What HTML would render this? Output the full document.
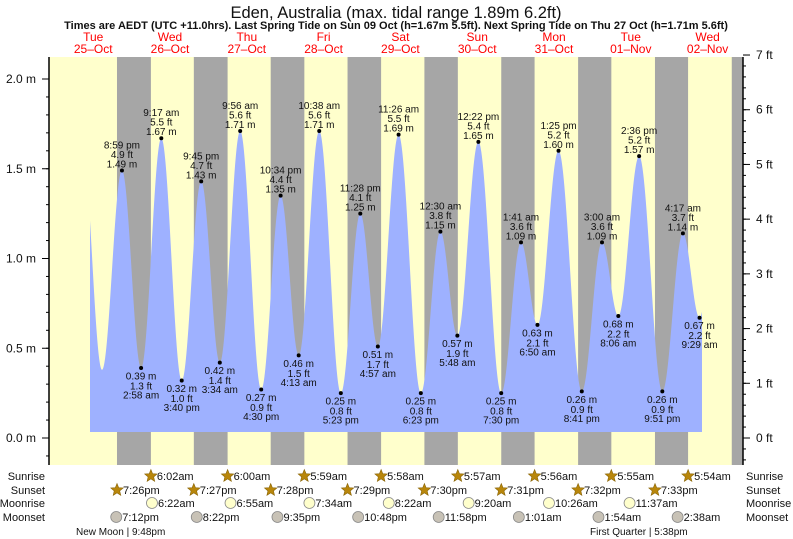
<!DOCTYPE html>
<html><head><meta charset="utf-8"><style>
html,body{margin:0;padding:0;background:#fff;}
svg{display:block;font-family:"Liberation Sans",sans-serif;}
</style></head><body>
<svg id="chart" width="793" height="539" viewBox="0 0 793 539" xmlns="http://www.w3.org/2000/svg">
<text x="396" y="18" font-size="16.5" text-anchor="middle" fill="#111">Eden, Australia (max. tidal range 1.89m 6.2ft)</text>
<text x="396" y="29" font-size="11" font-weight="bold" text-anchor="middle" fill="#111">Times are AEDT (UTC +11.0hrs). Last Spring Tide on Sun 09 Oct (h=1.67m 5.5ft). Next Spring Tide on Thu 27 Oct (h=1.71m 5.6ft)</text>
<g id="days"></g>
<g id="plot"></g>
<g id="labels"></g>
<g id="axes"></g>
<g id="astro"></g>
</svg>
<script>
// ---- data ----
const dayNames = ["Tue","Wed","Thu","Fri","Sat","Sun","Mon","Tue","Wed"];
const dayDates = ["25-Oct","26-Oct","27-Oct","28-Oct","29-Oct","30-Oct","31-Oct","01-Nov","02-Nov"];
const tideDay = [0,1,1,1,1,2,2,2,2,3,3,3,3,4,4,4,5,5,5,5,6,6,6,6,7,7,7,7,8,8];
const tideTime = ["8:59 pm","2:58 am","9:17 am","3:40 pm","9:45 pm","3:34 am","9:56 am","4:30 pm","10:34 pm","4:13 am","10:38 am","5:23 pm","11:28 pm","4:57 am","11:26 am","6:23 pm","12:30 am","5:48 am","12:22 pm","7:30 pm","1:41 am","6:50 am","1:25 pm","8:41 pm","3:00 am","8:06 am","2:36 pm","9:51 pm","4:17 am","9:29 am"];
const tideHeight = [1.49,0.39,1.67,0.32,1.43,0.42,1.71,0.27,1.35,0.46,1.71,0.25,1.25,0.51,1.69,0.25,1.15,0.57,1.65,0.25,1.09,0.63,1.60,0.26,1.09,0.68,1.57,0.26,1.14,0.67];
const edgeDay = [0,0,8];
const edgeTime = ["8:30 am","2:45 pm","3:40 pm"];
const edgeHeight = [1.65,0.38,1.55];
const sunriseDay = [1,2,3,4,5,6,7,8];
const sunriseTime = ["6:02am","6:00am","5:59am","5:58am","5:57am","5:56am","5:55am","5:54am"];
const sunsetDay = [0,1,2,3,4,5,6,7,8];
const sunsetTime = ["7:26pm","7:27pm","7:28pm","7:29pm","7:30pm","7:31pm","7:32pm","7:33pm","7:33pm"];
const moonriseDay = [1,2,3,4,5,6,7];
const moonriseTime = ["6:22am","6:55am","7:34am","8:22am","9:20am","10:26am","11:37am"];
const moonsetDay = [0,1,2,3,4,6,7,8];
const moonsetTime = ["7:12pm","8:22pm","9:35pm","10:48pm","11:58pm","1:01am","1:54am","2:38am"];
const mTicks = ["0.0 m","0.5 m","1.0 m","1.5 m","2.0 m"];
const mTickVals = [0,0.5,1.0,1.5,2.0];
const ftTicks = ["0 ft","1 ft","2 ft","3 ft","4 ft","5 ft","6 ft","7 ft"];
const ftTickVals = [0,1,2,3,4,5,6,7];

// ---- scales ----
const X0=54.8, PXH=3.2, PLOT_L=49, PLOT_R=743, PLOT_T=57, PLOT_B=465, Y0=438, PXM=179.5;
const X = h => X0 + h*PXH;
const Y = m => Y0 - m*PXM;
function parseT(d,t){const mm=t.match(/(\d+):(\d+)\s*(am|pm)/);let hh=+mm[1]%12;if(mm[3]==="pm")hh+=12;return d*24+hh+(+mm[2])/60;}
const NS="http://www.w3.org/2000/svg";
function mk(tag,attrs,parent,txt){const e=document.createElementNS(NS,tag);for(const k in attrs)e.setAttribute(k,attrs[k]);if(txt!==undefined)e.textContent=txt;parent.appendChild(e);return e;}
const gDays=document.getElementById('days'),gPlot=document.getElementById('plot'),gLab=document.getElementById('labels'),gAx=document.getElementById('axes'),gAs=document.getElementById('astro');

dayNames.forEach((n,i)=>{
  const cx=X(i*24+12);
  const t1=mk('text',{x:cx,y:41,'font-size':12,'text-anchor':'middle',fill:'#ff0000'},gDays,n);
  
  
  const t2=mk('text',{x:cx,y:53,'font-size':12,'text-anchor':'middle',fill:'#ff0000'},gDays,dayDates[i].replace('-','\u2013'));
  
  
});
const bg=mk('rect',{x:PLOT_L,y:PLOT_T,width:PLOT_R-PLOT_L,height:PLOT_B-PLOT_T,fill:'#ffffcc'},gPlot);


sunsetDay.forEach((d,i)=>{
  if(i===sunsetDay.length-1 && d===8 && sunsetDay[i-1]===8) return;
  const s=X(parseT(d,sunsetTime[i]));
  const ri=sunriseDay.indexOf(d+1);
  const e=ri>=0?X(parseT(d+1,sunriseTime[ri])):PLOT_R;
  const r=mk('rect',{x:s,y:PLOT_T,width:Math.min(e,PLOT_R)-s,height:PLOT_B-PLOT_T,fill:'#a6a6a6'},gPlot);
  
  
});
const ext=[];
edgeDay.forEach((d,i)=>ext.push([parseT(d,edgeTime[i]),edgeHeight[i]]));
tideDay.forEach((d,i)=>ext.push([parseT(d,tideTime[i]),tideHeight[i]]));
ext.sort((a,b)=>a[0]-b[0]);
function hAt(h){for(let i=0;i<ext.length-1;i++){const a=ext[i],b=ext[i+1];if(h>=a[0]&&h<=b[0]){const f=(h-a[0])/(b[0]-a[0]);return b[1]+(a[1]-b[1])*(1+Math.cos(Math.PI*f))/2;}}return ext[ext.length-1][1];}
const hs=(90-X0)/PXH, he=(702-X0)/PXH, base=432;
let p=`M${X(hs)},${base}`;
for(let h=hs;h<=he;h+=0.1)p+=` L${X(h).toFixed(2)},${Y(hAt(h)).toFixed(2)}`;
p+=` L${X(he)},${Y(hAt(he)).toFixed(2)} L${X(he)},${base} Z`;
const area=mk('path',{d:p,fill:'#9eb1ff'},gPlot);


tideDay.forEach((d,i)=>{
  const h=parseT(d,tideTime[i]), v=tideHeight[i], x=X(h), y=Y(v);
  const prev=i>0?tideHeight[i-1]:edgeHeight[1];
  const high=v>prev;
  const dot=mk('circle',{cx:x,cy:y,r:2,fill:'#000'},gLab);
  
  
  const ft=(v/0.3048).toFixed(1)+' ft', m=v.toFixed(2)+' m';
  const lines=high?[tideTime[i],ft,m]:[m,ft,tideTime[i]];
  const ys=high?[y-22,y-12.5,y-3]:[y+11.5,y+21.5,y+30.5];
  lines.forEach((t,k)=>{
    const tt=mk('text',{x:x,y:ys[k],'font-size':10,'text-anchor':'middle',fill:'#111'},gLab,t);
    
    
  });
});
mk('line',{x1:PLOT_L,y1:PLOT_T,x2:PLOT_L,y2:PLOT_B,stroke:'#000','stroke-width':1.5},gAx);
mk('line',{x1:PLOT_R,y1:PLOT_T,x2:PLOT_R,y2:PLOT_B,stroke:'#000','stroke-width':1.5},gAx);
for(let m=-0.1;m<=2.05;m+=0.1){const y=Y(m);if(y>PLOT_B||y<PLOT_T)continue;mk('line',{x1:PLOT_L-3,y1:y,x2:PLOT_L,y2:y,stroke:'#000'},gAx);}
mTickVals.forEach((v,i)=>{const y=Y(v);mk('line',{x1:PLOT_L-7,y1:y,x2:PLOT_L,y2:y,stroke:'#000'},gAx);
  const t=mk('text',{x:36,y:y+4,'font-size':12,'text-anchor':'end',fill:'#111'},gAx,mTicks[i]);
  
  });
const PXF=PXM*0.3048;
for(let f=-0.4;f<=7.01;f+=0.2){const y=Y0-f*PXF;if(y>PLOT_B||y<PLOT_T-2)continue;mk('line',{x1:PLOT_R,y1:y,x2:PLOT_R+3,y2:y,stroke:'#000'},gAx);}
ftTickVals.forEach((v,i)=>{const y=Y0-v*PXF;mk('line',{x1:PLOT_R,y1:y,x2:PLOT_R+7,y2:y,stroke:'#000'},gAx);
  const t=mk('text',{x:756,y:y+4,'font-size':12,fill:'#111'},gAx,ftTicks[i]);
  
  });
const rows=[["Sunrise",476],["Sunset",490],["Moonrise",503],["Moonset",517]];
rows.forEach(r=>{
  const a=mk('text',{x:45,y:r[1]+4,'font-size':11,'text-anchor':'end',fill:'#111'},gAs,r[0]);
  
  
  const b=mk('text',{x:746,y:r[1]+4,'font-size':11,fill:'#111'},gAs,r[0]);
  
  
});
function star(cx,cy){let s='';for(let k=0;k<10;k++){const rr=k%2?2.9:6.5,a=-Math.PI/2+k*Math.PI/5;s+=(cx+rr*Math.cos(a)).toFixed(1)+','+(cy+rr*Math.sin(a)).toFixed(1)+' ';}return s;}
function row(days,times,y,kind){
  days.forEach((d,i)=>{
    if(kind==='sunset'&&d===8)return;
    const x=X(parseT(d,times[i]));
    let ic;
    if(kind==='sunrise'||kind==='sunset')ic=mk('polygon',{points:star(x,y),fill:'#b8860b',stroke:'#8a6508','stroke-width':0.6},gAs);
    else ic=mk('circle',{cx:x,cy:y,r:5.5,fill:kind==='moonrise'?'#ffffcc':'#c8c2b6',stroke:'#888','stroke-width':0.8},gAs);
    
    
    const t=mk('text',{x:x+6,y:y+4,'font-size':11,fill:'#111'},gAs,times[i]);
    
    
  });
}
row(sunriseDay,sunriseTime,476,'sunrise');
row(sunsetDay,sunsetTime,490,'sunset');
row(moonriseDay,moonriseTime,503,'moonrise');
row(moonsetDay,moonsetTime,517,'moonset');
const nm=mk('text',{x:76,y:535,'font-size':10,fill:'#111'},gAs,'New Moon | 9:48pm');


const fq=mk('text',{x:590,y:535,'font-size':10,fill:'#111'},gAs,'First Quarter | 5:38pm');


</script>
</body></html>
